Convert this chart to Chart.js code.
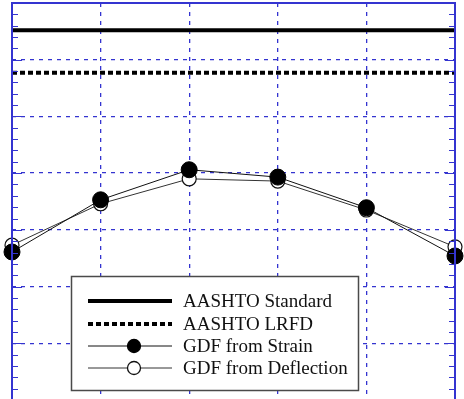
<!DOCTYPE html>
<html>
<head>
<meta charset="utf-8">
<script src="https://cdn.jsdelivr.net/npm/chart.js@4/dist/chart.umd.min.js"></script>
<style>
html,body{margin:0;padding:0;background:#fff;overflow:hidden;width:464px;height:399px;}
canvas{display:block;}
</style>
</head>
<body>
<canvas id="c" width="464" height="401"></canvas>
<script>
// Girder positions (x axis)
const girders = [1, 2, 3, 4, 5, 6];
// Series values
const aashtoStandard = [0.652, 0.652, 0.652, 0.652, 0.652, 0.652];
const aashtoLRFD = [0.577, 0.577, 0.577, 0.577, 0.577, 0.577];
const gdfStrain = [0.261, 0.353, 0.406, 0.393, 0.339, 0.254];
const gdfDeflection = [0.273, 0.346, 0.390, 0.386, 0.335, 0.270];
const seriesLabels = ['AASHTO Standard', 'AASHTO LRFD', 'GDF from Strain', 'GDF from Deflection'];
const yMin = 0, yMax = 0.7, yStep = 0.1, yMinorStep = 0.02;

const BLUE = '#3434d0';

function pts(arr){ return girders.map((g,i)=>({x:g, y:arr[i]})); }

const frameTicks = {
  id:'frameTicks',
  afterDatasetsDraw(chart){
    const {ctx, chartArea:a, scales:{y}} = chart;
    ctx.save();
    ctx.strokeStyle = BLUE;
    ctx.lineWidth = 1;
    const n = Math.round((yMax-yMin)/yMinorStep);
    for(let i=1;i<n;i++){
      const v = yMin + i*yMinorStep;
      const py = Math.round(y.getPixelForValue(v))+0.5;
      const major = (i % 5 === 0);
      const len = major ? 10 : 6;
      ctx.beginPath();
      ctx.moveTo(a.left, py); ctx.lineTo(a.left+len, py);
      ctx.moveTo(a.right, py); ctx.lineTo(a.right-len, py);
      ctx.stroke();
    }
    ctx.lineWidth = 2;
    ctx.strokeStyle = BLUE;
    ctx.strokeRect(a.left, a.top, a.right-a.left, a.bottom-a.top);
    ctx.restore();
  },
  afterDraw(chart){
    const ctx = chart.ctx;
    const bx = 71.5, by = 276.5, bw = 287, bh = 114;
    ctx.save();
    ctx.fillStyle = '#fff';
    ctx.fillRect(bx, by, bw, bh);
    ctx.strokeStyle = '#4a4a4a';
    ctx.lineWidth = 1.5;
    ctx.strokeRect(bx, by, bw, bh);
    const rows = [301, 324, 346, 368];
    const ds = chart.data.datasets;
    ds.forEach((d, i) => {
      const ry = rows[i];
      ctx.save();
      ctx.strokeStyle = d.borderColor;
      ctx.lineWidth = d.borderWidth;
      ctx.setLineDash(d.borderDash || []);
      ctx.beginPath();
      ctx.moveTo(88, ry); ctx.lineTo(172, ry);
      ctx.stroke();
      ctx.setLineDash([]);
      if (d.pointRadius > 0) {
        ctx.beginPath();
        ctx.arc(134, ry, 6.5, 0, Math.PI*2);
        ctx.fillStyle = d.pointBackgroundColor;
        ctx.fill();
        ctx.lineWidth = 1.3;
        ctx.strokeStyle = d.pointBorderColor;
        ctx.stroke();
      }
      ctx.restore();
      ctx.fillStyle = '#111';
      ctx.font = '19px "Liberation Serif", "Times New Roman", serif';
      ctx.textBaseline = 'middle';
      ctx.fillText(d.label, 183, ry + 1);
    });
    ctx.restore();
  }
};

new Chart(document.getElementById('c'), {
  type: 'line',
  data: {
    datasets: [
      { label: seriesLabels[0], data: pts(aashtoStandard), borderColor:'#000', borderWidth:4, pointRadius:0, clip:false, order:3 },
      { label: seriesLabels[1], data: pts(aashtoLRFD), borderColor:'#000', borderWidth:4, borderDash:[5,3], pointRadius:0, clip:false, order:2 },
      { label: seriesLabels[2], data: pts(gdfStrain), borderColor:'#111', borderWidth:1, pointRadius:8, pointBackgroundColor:'#000', pointBorderColor:'#000', pointBorderWidth:1, clip:false, order:0 },
      { label: seriesLabels[3], data: pts(gdfDeflection), borderColor:'#333', borderWidth:1, pointRadius:7, pointBackgroundColor:'#fff', pointBorderColor:'#111', pointBorderWidth:1.2, clip:false, order:1 }
    ]
  },
  options: {
    responsive: false,
    animation: false,
    events: [],
    layout: { autoPadding: false, padding: { left: 12, top: 3, right: 9, bottom: 1 } },
    plugins: { legend: { display: false }, tooltip: { enabled: false } },
    scales: {
      x: {
        type: 'linear', min: 1, max: 6,
        ticks: { display: false, stepSize: 1, padding: 0 },
        grid: { color: BLUE, lineWidth: 1.3, drawTicks: false, tickLength: 0 },
        border: { display: false, dash: [4, 5] },
        afterFit(s){ s.height = 0; s.paddingLeft = 0; s.paddingRight = 0; }
      },
      y: {
        type: 'linear', min: yMin, max: yMax,
        ticks: { display: false, stepSize: yStep, padding: 0 },
        grid: { color: BLUE, lineWidth: 1.3, drawTicks: false, tickLength: 0 },
        border: { display: false, dash: [4, 5] },
        afterFit(s){ s.width = 0; s.paddingTop = 0; s.paddingBottom = 0; }
      }
    }
  },
  plugins: [frameTicks]
});
</script>
</body>
</html>
